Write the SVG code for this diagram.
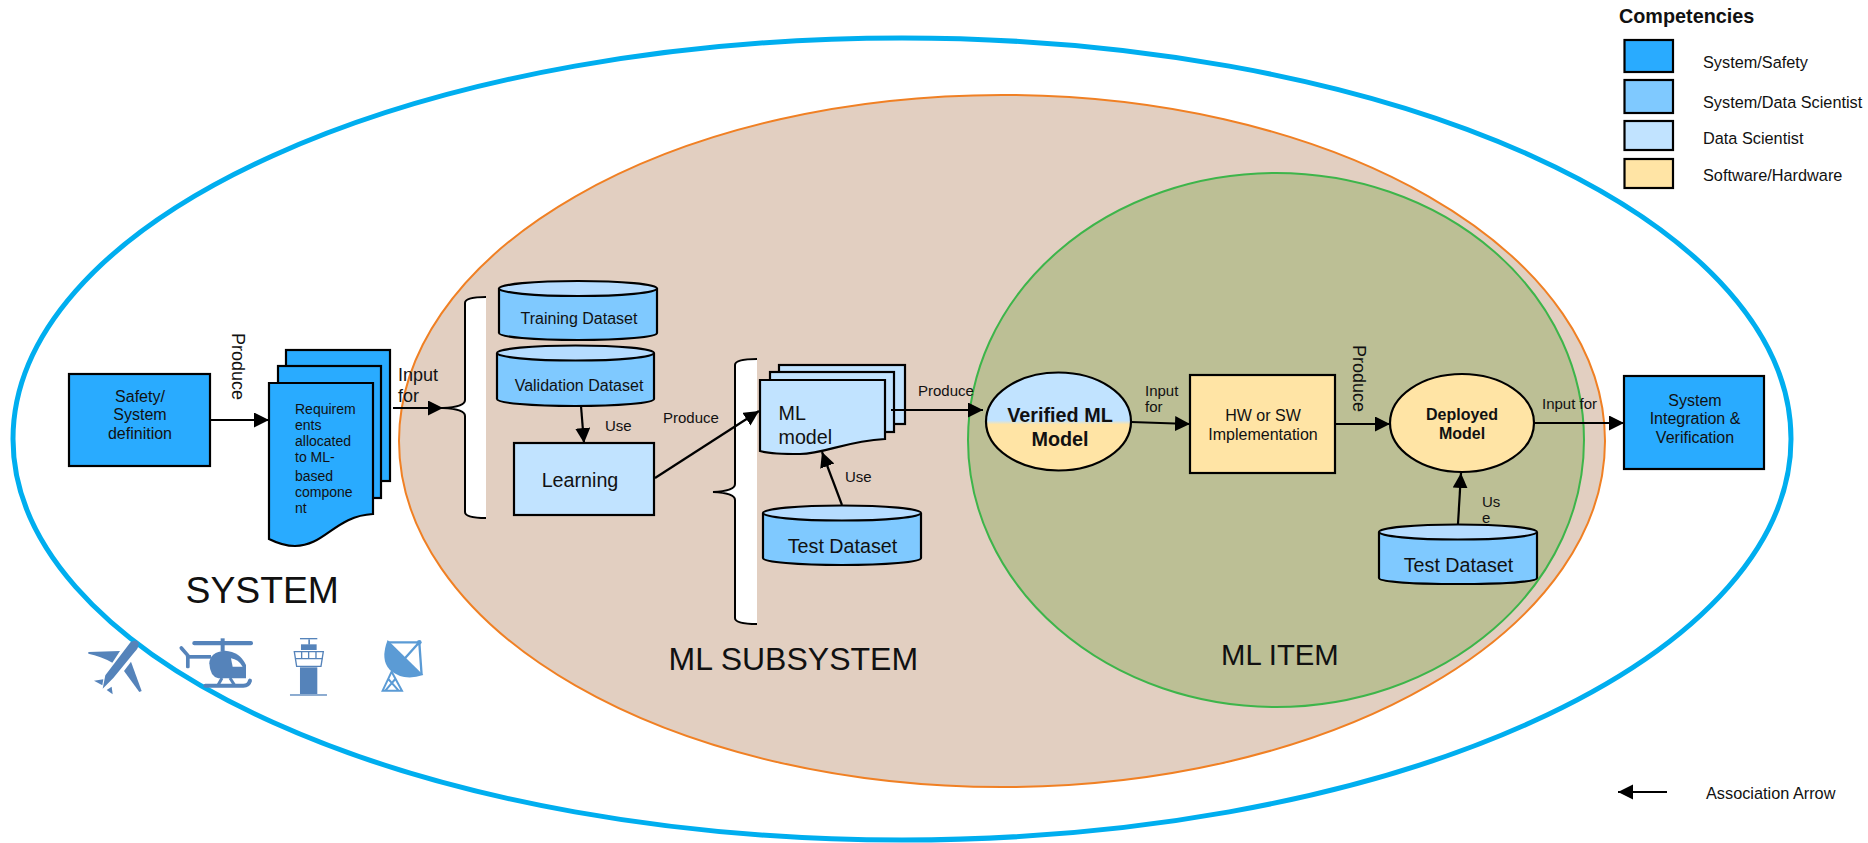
<svg xmlns="http://www.w3.org/2000/svg" width="1868" height="843" viewBox="0 0 1868 843">
<style>
text{font-family:"Liberation Sans",Arial,sans-serif;fill:#111}
.s{stroke:#000;stroke-width:2.2}
.c1{fill:#29abff}.c2{fill:#7fc9ff}.c3{fill:#c1e3ff}.c4{fill:#ffe4a5}
.cap{fill:#b5dcff}
.b{font-weight:bold}
.m{text-anchor:middle}
.l{fill:none;stroke:#000;stroke-width:2.2;marker-end:url(#ah)}
.br{fill:#fff;stroke:#000;stroke-width:2}
.ic{fill:#5583ba}
.ics{fill:none;stroke:#5583ba}
.dk{fill:#5b9bd5}
.dks{fill:none;stroke:#5b9bd5}
</style>
<defs>
<marker id="ah" markerUnits="userSpaceOnUse" markerWidth="16" markerHeight="16" refX="15" refY="7.5" orient="auto"><path d="M0 0L15 7.5L0 15Z" fill="#000"/></marker>
<linearGradient id="vg" x1="0" y1="0" x2="0" y2="1"><stop offset="0.49" stop-color="#c1e3ff"/><stop offset="0.53" stop-color="#ffe4a5"/></linearGradient>
</defs>
<rect width="1868" height="843" fill="#fff"/>
<g id="system-boundary"><ellipse cx="902" cy="439" rx="889" ry="401" fill="#fff" stroke="#00aeef" stroke-width="5"/></g>
<g id="subsystem-boundary"><ellipse cx="1002" cy="441" rx="603" ry="346" fill="#e2cfc1" stroke="#f08024" stroke-width="2"/></g>
<g id="item-boundary"><ellipse cx="1276" cy="440" rx="308" ry="267" fill="#bcbf95" stroke="#3db54a" stroke-width="2"/></g>

<g id="brace-1"><path class="br" d="M486 297Q465 297 465 303V400Q465 407 443 408Q465 409 465 416V512Q465 518 486 518"/></g>
<g id="brace-2"><path class="br" d="M757 359Q735 359 735 365V484Q735 491 713 492Q735 493 735 500V618Q735 624 757 624"/></g>

<g id="safety-definition"><rect class="s c1" x="69" y="374" width="141" height="92"/>
<text class="m" font-size="16"><tspan x="140" y="402">Safety/</tspan><tspan x="140" y="420">System</tspan><tspan x="140" y="439">definition</tspan></text></g>

<g id="requirements">
<rect class="s c1" x="286" y="350" width="104" height="131"/>
<rect class="s c1" x="278" y="366" width="103" height="132"/>
<path class="s c1" d="M269 383H373V514C335 516 325 546 295 546C285 546 277 543 269 539Z"/>
<text font-size="14"><tspan x="295" y="414">Requirem</tspan><tspan x="295" y="430">ents</tspan><tspan x="295" y="446">allocated</tspan><tspan x="295" y="462">to ML-</tspan><tspan x="295" y="481">based</tspan><tspan x="295" y="497">compone</tspan><tspan x="295" y="513">nt</tspan></text></g>

<g id="training-dataset"><path class="s c2" d="M499 288V333C499 337 534 340 578 340S657 337 657 333V288"/><ellipse class="s cap" cx="578" cy="288.500" rx="79" ry="7.500"/>
<text class="m" font-size="16" x="579" y="324">Training Dataset</text></g>

<g id="validation-dataset"><path class="s c2" d="M497 353V399C497 403 532 406 575 406S654 403 654 399V353"/><ellipse class="s cap" cx="575.500" cy="353" rx="78.500" ry="7.500"/>
<text class="m" font-size="16" x="579" y="391">Validation Dataset</text></g>

<g id="learning"><rect class="s c3" x="514" y="443" width="140" height="72"/>
<text class="m" font-size="19.700" x="580" y="487">Learning</text></g>

<g id="ml-model">
<rect class="s c3" x="779" y="365" width="126" height="59"/>
<rect class="s c3" x="770" y="372" width="124" height="60"/>
<path class="s c3" d="M760 380H885V439C845 441 825 454 800 454C785 454 770 454 760 451Z"/>
<text font-size="19.700"><tspan x="778.500" y="420">ML</tspan><tspan x="778.500" y="444">model</tspan></text></g>

<g id="test-dataset-1"><path class="s c2" d="M763 513V558C763 562 798 565 842 565S921 562 921 558V513"/><ellipse class="s cap" cx="842" cy="513" rx="79" ry="7.500"/>
<text class="m" font-size="19.700" x="842.500" y="553">Test Dataset</text></g>

<g id="verified-ml-model"><ellipse class="s" cx="1058.500" cy="421.500" rx="72.500" ry="49" fill="url(#vg)"/>
<text class="m b" font-size="19.800"><tspan x="1060" y="422">Verified ML</tspan><tspan x="1060" y="446">Model</tspan></text></g>

<g id="implementation"><rect class="s c4" x="1190" y="375" width="145" height="98"/>
<text class="m" font-size="16"><tspan x="1263" y="421">HW or SW</tspan><tspan x="1263" y="440">Implementation</tspan></text></g>

<g id="deployed-model"><ellipse class="s c4" cx="1462" cy="423" rx="72" ry="49"/>
<text class="m b" font-size="16"><tspan x="1462" y="420">Deployed</tspan><tspan x="1462" y="439">Model</tspan></text></g>

<g id="test-dataset-2"><path class="s c2" d="M1379 532V578C1379 582 1414 584 1458 584S1537 582 1537 578V532"/><ellipse class="s cap" cx="1458" cy="532" rx="79" ry="7.500"/>
<text class="m" font-size="19.700" x="1458.500" y="572">Test Dataset</text></g>

<g id="system-integration"><rect class="s c1" x="1624" y="376" width="140" height="93"/>
<text class="m" font-size="16"><tspan x="1695" y="406">System</tspan><tspan x="1695" y="424">Integration &amp;</tspan><tspan x="1695" y="443">Verification</tspan></text></g>

<g id="connectors">
<path class="l" d="M210 420H269"/>
<path class="l" d="M393 408H443"/>
<path class="l" d="M581 406L584 443"/>
<path class="l" d="M655 478L759 411"/>
<path class="l" d="M842 505L822 452"/>
<path class="l" d="M891 410H983"/>
<path class="l" d="M1131 422L1190 424"/>
<path class="l" d="M1335 424H1390"/>
<path class="l" d="M1534 423H1624"/>
<path class="l" d="M1458 524L1461 473"/>
</g>

<g id="connector-labels">
<text font-size="18" transform="translate(232 333) rotate(90)">Produce</text>
<text font-size="18"><tspan x="398" y="381">Input</tspan><tspan x="398" y="402">for</tspan></text>
<text font-size="15" x="605" y="431">Use</text>
<text font-size="15" x="663" y="423">Produce</text>
<text font-size="15" x="845" y="482">Use</text>
<text font-size="15" x="918" y="396">Produce</text>
<text font-size="15"><tspan x="1145" y="396">Input</tspan><tspan x="1145" y="412">for</tspan></text>
<text font-size="18" transform="translate(1353 345) rotate(90)">Produce</text>
<text font-size="15" x="1542" y="409">Input for</text>
<text font-size="15"><tspan x="1482" y="507">Us</tspan><tspan x="1482" y="523">e</tspan></text>
</g>

<g id="region-labels">
<text font-size="37.300" x="185.500" y="602.500">SYSTEM</text>
<text font-size="32" x="668.500" y="670">ML SUBSYSTEM</text>
<text font-size="29.300" x="1221" y="665">ML ITEM</text>
</g>

<g id="icons" transform="translate(60 610) scale(0.3333)">
<g id="icon-plane">
<path class="ic" d="M212 96Q228 86 236 98Q238 112 222 128L160 204L128 236L136 196Z"/>
<path class="ic" d="M85 126L180 123L157 158Q122 138 85 131Z"/>
<path class="ic" d="M213 155L245 243L238 246L192 183Z"/>
<path class="ic" d="M102 212L130 208L127 226Z"/>
<path class="ic" d="M140 240L155 230L158 253Z"/>
</g>
<g id="icon-helicopter">
<rect class="ic" x="397" y="93" width="182" height="13" rx="6"/>
<rect class="ic" x="482" y="85" width="12" height="40"/>
<path class="ic" d="M448 160Q450 125 495 122Q540 125 558 165V205H475Q450 200 448 160Z"/>
<path d="M513 145Q535 148 548 170H518Z" fill="#fff"/>
<rect class="ic" x="378" y="135" width="75" height="11"/>
<rect class="ic" x="378" y="135" width="11" height="40" rx="4"/>
<path class="ics" stroke-width="11" stroke-linecap="round" d="M364 114L384 137"/>
<path class="ics" stroke-width="9" d="M486 204L474 226M510 204L524 226"/>
<path class="ics" stroke-width="12" stroke-linecap="round" d="M436 227H550Q566 227 570 212"/>
</g>
<g id="icon-tower">
<rect class="ic" x="720" y="84" width="52" height="4"/>
<rect class="ic" x="745" y="88" width="5" height="16"/>
<rect class="ic" x="723" y="103" width="47" height="17"/>
<path d="M703 125H790L783 169H710Z" fill="#fff" stroke="#5583ba" stroke-width="4"/>
<path class="ics" stroke-width="4" d="M705 146H788M725 125V146M746 125V146M768 125V146"/>
<rect class="ic" x="720" y="172" width="52" height="80"/>
<rect class="ic" x="690" y="253" width="111" height="4"/>
</g>
<g id="icon-dish">
<path class="dk" d="M983 90Q960 150 990 180Q1030 215 1090 195Z"/>
<path class="dks" stroke-width="7" d="M983 97L1078 97L1085 195M1078 97L1035 145"/>
<circle class="dk" cx="1078" cy="97" r="7"/>
<path class="dks" stroke-width="6" d="M995 185L968 242H1026ZM985 207L1016 242M1006 207L976 242"/>
</g>
</g>

<g id="legend">
<text class="b" font-size="19.800" x="1619" y="23">Competencies</text>
<rect class="s c1" x="1624.500" y="40" width="48.500" height="32"/>
<rect class="s c2" x="1624.500" y="80" width="48.500" height="33"/>
<rect class="s c3" x="1624.500" y="121" width="48.500" height="29"/>
<rect class="s c4" x="1624.500" y="159" width="48.500" height="29"/>
<text font-size="16.300"><tspan x="1703" y="67.500">System/Safety</tspan><tspan x="1703" y="107.500">System/Data Scientist</tspan><tspan x="1703" y="143.500">Data Scientist</tspan><tspan x="1703" y="180.800">Software/Hardware</tspan></text>
<path class="l" d="M1667 792H1618"/>
<text font-size="16.300" x="1706" y="799">Association Arrow</text>
</g>
</svg>
